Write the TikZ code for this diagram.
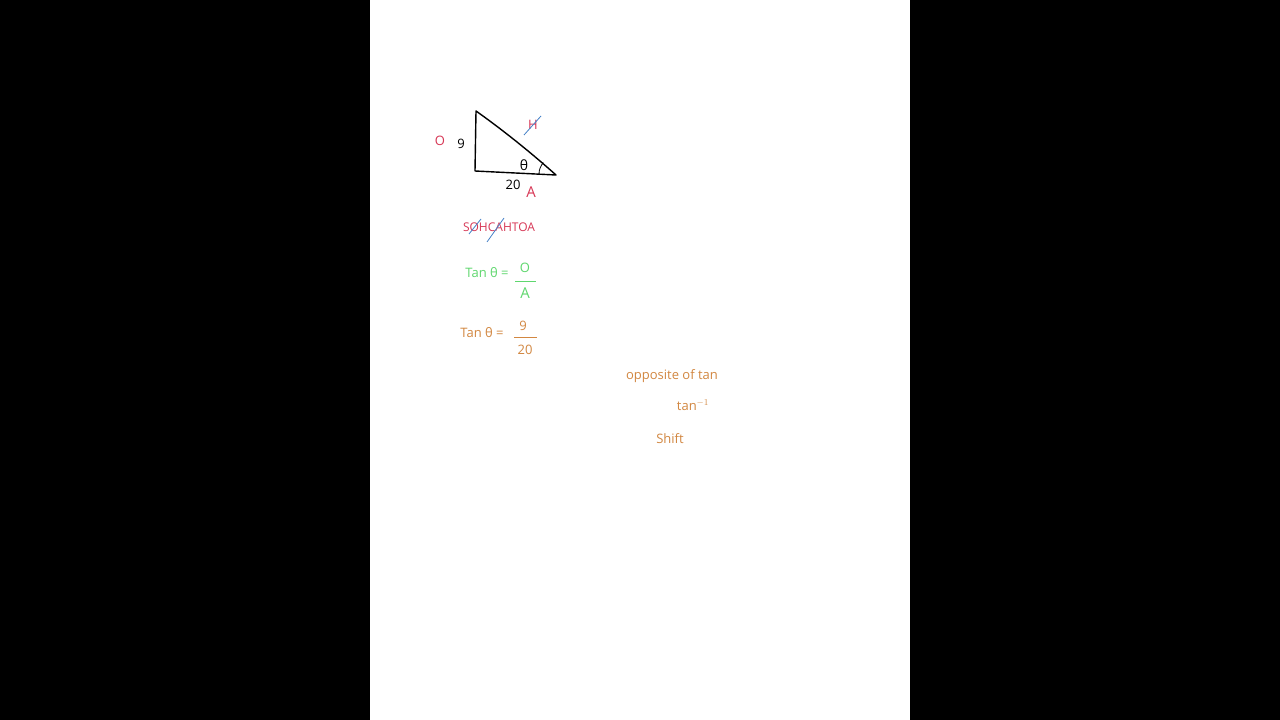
\documentclass[tikz,border=0pt]{standalone}
\usepackage{fontspec}
\setmainfont{Open Sans}
\definecolor{hred}{RGB}{215,55,85}
\definecolor{hgreen}{RGB}{95,215,110}
\definecolor{horange}{RGB}{210,135,65}
\definecolor{hblue}{RGB}{70,130,200}
\tikzset{
  lbl/.style={inner sep=0pt,font=\fontsize{13}{15}\selectfont},
  side/.style={line width=1.4pt,line join=round,black},
  slash/.style={hblue,line width=0.8pt},
}
\begin{document}
\begin{tikzpicture}[x=1pt,y=-1pt]
\fill[black] (0,0) rectangle (1280,720);
\fill[white] (370,0) rectangle (910,720);
\useasboundingbox (0,0) rectangle (1280,720);
% triangle
\coordinate (T) at (476,111);
\coordinate (B) at (475,171);
\coordinate (R) at (556,175);
\draw[side] (B) -- (T) .. controls (500,128) and (528,150) .. (R) -- cycle;
\draw[line width=0.8pt] (539,174) arc[start angle=180,end angle=222,radius=17];
\node[lbl,font=\fontsize{14}{16}\selectfont] (th) at (524,165) {θ};
\node[lbl] (nine) at (461,144) {9};
\node[lbl,hred] (O) at (440,141) {O};
\node[lbl,hred] (H) at (533,125) {H};
\draw[slash] (524,135) -- (541,116);
\node[lbl] (twenty) at (513,185) {20};
\node[lbl,hred,font=\fontsize{15}{17}\selectfont] (A) at (531,192) {A};
% SOHCAHTOA
\node[lbl,hred,font=\fontsize{12}{14}\selectfont] (soh) at (499,227) {SOHCAHTOA};
\draw[slash] (469,234) -- (481,219);
\draw[slash] (487,242) -- (504,218);
% tan = O/A
\node[lbl,hgreen] (t1) at (487,273) {Tan θ =};
\node[lbl,hgreen] (o1) at (525,268) {O};
\draw[hgreen,line width=0.9pt] (515,281) -- (536,281);
\node[lbl,hgreen,font=\fontsize{15}{17}\selectfont] (a1) at (525,293) {A};
% tan = 9/20
\node[lbl,horange] (t2) at (482,333) {Tan θ =};
\node[lbl,horange] (n2) at (523,326) {9};
\draw[horange,line width=0.9pt] (514,337) -- (537,337);
\node[lbl,horange] (d2) at (525,350) {20};
% notes
\node[lbl,horange] (opp) at (672,376) {opposite of tan};
\node[lbl,horange] (inv) at (693,405) {tan$^{-1}$};
\node[lbl,horange] (shift) at (670,439) {Shift};
\end{tikzpicture}
\end{document}
